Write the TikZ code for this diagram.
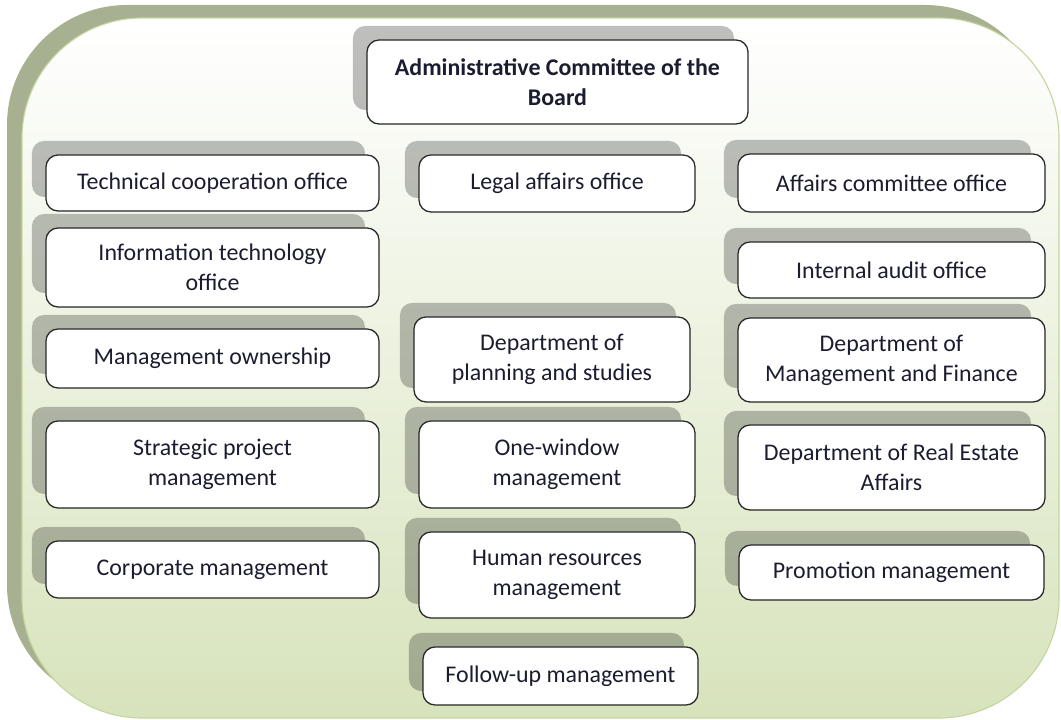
\documentclass[tikz,border=0pt]{standalone}
\usepackage{fontspec}
\setmainfont{Carlito}
\usepackage{tikz}
\usetikzlibrary{shadows}
\definecolor{frame}{RGB}{168, 176, 146}
\definecolor{leaf}{RGB}{215, 227, 188}
\definecolor{rim}{RGB}{196, 215, 155}
\definecolor{ink}{RGB}{28, 28, 48}
\definecolor{edge}{RGB}{38, 38, 38}

\tikzset{
  office/.style={draw=edge, line width=0.9pt, fill=white, rounded corners=0.3cm,
    align=center, text=ink, inner sep=0pt, font=\fontsize{17}{21.3}\selectfont,
    general shadow={fill=black, opacity=0.25, shadow xshift=-0.35cm, shadow yshift=0.35cm}}
}

\begin{document}
\begin{tikzpicture}[x=0.025cm, y=-0.025cm]
  \useasboundingbox (0, 0) rectangle (1061, 720);

  % Backdrop
  \fill[frame, rounded corners=3cm] (7, 5) rectangle (1045, 705);
  \shade[top color=white, bottom color=leaf, draw=rim, line width=0.8pt, rounded corners=3cm]
    (22, 18) rectangle (1059, 718);

  % Board
  \pgfmathsetmacro{\w}{(748 - 367) * 0.025};
  \pgfmathsetmacro{\h}{(124 - 40) * 0.025};
  \node[office, minimum width=\w cm, minimum height=\h cm, font=\fontsize{17}{21.3}\selectfont\bfseries]
    (board) at ({(367 + 748) / 2}, {(40 + 124) / 2}) {Administrative Committee of the\\Board};

  % Offices and departments
  \foreach \nm/\xa/\ya/\xb/\yb/\txt in {
      tech/46/155/379/211/{Technical cooperation office},
      infotech/46/228/379/307/{Information technology\\office},
      ownership/46/329/379/388/{Management ownership},
      strategic/46/421/379/508/{Strategic project\\management},
      corporate/46/541/379/598/{Corporate management},
      legal/419/155/695/212/{Legal affairs office},
      planning/414/317/690/402/{Department of\\planning and studies},
      onewindow/419/421/695/508/{One-window\\management},
      hr/419/532/695/618/{Human resources\\management},
      followup/423/647/698/705/{Follow-up management},
      affairs/738/154/1045/212/{Affairs committee office},
      audit/738/242/1045/298/{Internal audit office},
      finance/738/318/1045/402/{Department of\\Management and Finance},
      estate/738/425/1045/510/{Department of Real Estate\\Affairs},
      promotion/739/545/1044/600/{Promotion management}} {
    \pgfmathsetmacro{\w}{(\xb - \xa) * 0.025};
    \pgfmathsetmacro{\h}{(\yb - \ya) * 0.025};
    \node[office, minimum width=\w cm, minimum height=\h cm]
      (\nm) at ({(\xa + \xb) / 2}, {(\ya + \yb) / 2}) {\txt};
  }

\end{tikzpicture}
\end{document}
